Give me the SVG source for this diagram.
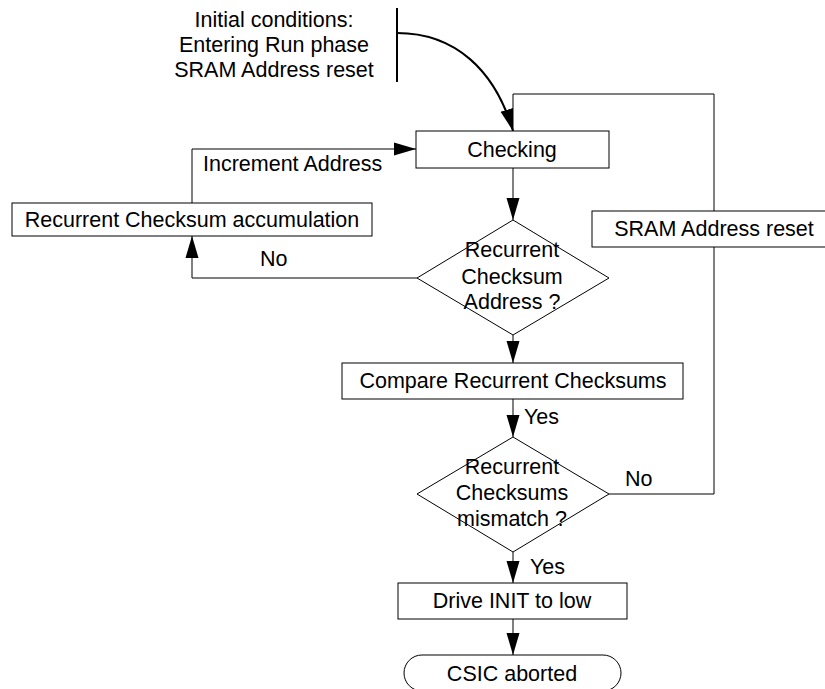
<svg xmlns="http://www.w3.org/2000/svg" width="825" height="689" viewBox="0 0 825 689">
<style>
text{font-family:"Liberation Sans",Arial,sans-serif;font-size:21.5px;fill:#000}
.c{text-anchor:middle}
.box{fill:#fff;stroke:#000;stroke-width:1}
.ln{fill:none;stroke:#000;stroke-width:1}
</style>
<defs>
<marker id="ah" markerUnits="userSpaceOnUse" markerWidth="22" markerHeight="14" refX="22" refY="7" orient="auto">
<path d="M0,0.5 L22,7 L0,13.5 z" fill="#000"/>
</marker>
</defs>
<rect width="825" height="689" fill="#fff"/>
<g id="connectors">
<path d="M397,33 C455,33 495,70 513,131" fill="none" stroke="#000" stroke-width="2" marker-end="url(#ah)"/>
<path class="ln" d="M513,168 L513,220" marker-end="url(#ah)"/>
<path class="ln" d="M192,203 L192,149 L416,149" marker-end="url(#ah)"/>
<path class="ln" d="M417,278 L192,278 L192,236" marker-end="url(#ah)"/>
<path class="ln" d="M513,335 L513,363" marker-end="url(#ah)"/>
<path class="ln" d="M513,399 L513,437" marker-end="url(#ah)"/>
<path class="ln" d="M513,552 L513,583" marker-end="url(#ah)"/>
<path class="ln" d="M513,619 L513,655" marker-end="url(#ah)"/>
<path class="ln" d="M609,494 L714,494 L714,247"/>
<path class="ln" d="M714,211 L714,94 L513,94 L513,131"/>
<text x="203" y="171">Increment Address</text>
<text x="260" y="266">No</text>
<text x="524" y="424">Yes</text>
<text x="625" y="486">No</text>
<text x="530" y="574">Yes</text>
</g>
<g id="start">
<line x1="397" y1="8" x2="397" y2="82" stroke="#000" stroke-width="2"/>
<text class="c" x="274" y="27">Initial conditions:</text>
<text class="c" x="274" y="52">Entering Run phase</text>
<text class="c" x="274" y="77">SRAM Address reset</text>
</g>
<g id="checking">
<rect class="box" x="416" y="131" width="193" height="37"/>
<text class="c" x="512" y="157">Checking</text>
</g>
<g id="accumulation">
<rect class="box" x="12" y="203" width="360" height="33"/>
<text class="c" x="192" y="227">Recurrent Checksum accumulation</text>
</g>
<g id="sramreset">
<rect class="box" x="592" y="211" width="244" height="36"/>
<text class="c" x="714" y="236">SRAM Address reset</text>
</g>
<g id="decision1">
<path class="box" d="M513,220 L609,278 L513,335 L417,278 Z"/>
<text class="c" x="512" y="257">Recurrent</text>
<text class="c" x="512" y="284">Checksum</text>
<text class="c" x="512" y="309">Address ?</text>
</g>
<g id="compare">
<rect class="box" x="342" y="363" width="341" height="36"/>
<text class="c" x="513" y="388">Compare Recurrent Checksums</text>
</g>
<g id="decision2">
<path class="box" d="M513,437 L609,494 L513,552 L417,494 Z"/>
<text class="c" x="512" y="474">Recurrent</text>
<text class="c" x="512" y="500">Checksums</text>
<text class="c" x="512" y="526">mismatch ?</text>
</g>
<g id="drive">
<rect class="box" x="398" y="583" width="229" height="36"/>
<text class="c" x="512" y="608">Drive INIT to low</text>
</g>
<g id="aborted">
<rect class="box" x="404" y="655" width="217" height="36" rx="18" ry="18"/>
<text class="c" x="512" y="681">CSIC aborted</text>
</g>
</svg>
